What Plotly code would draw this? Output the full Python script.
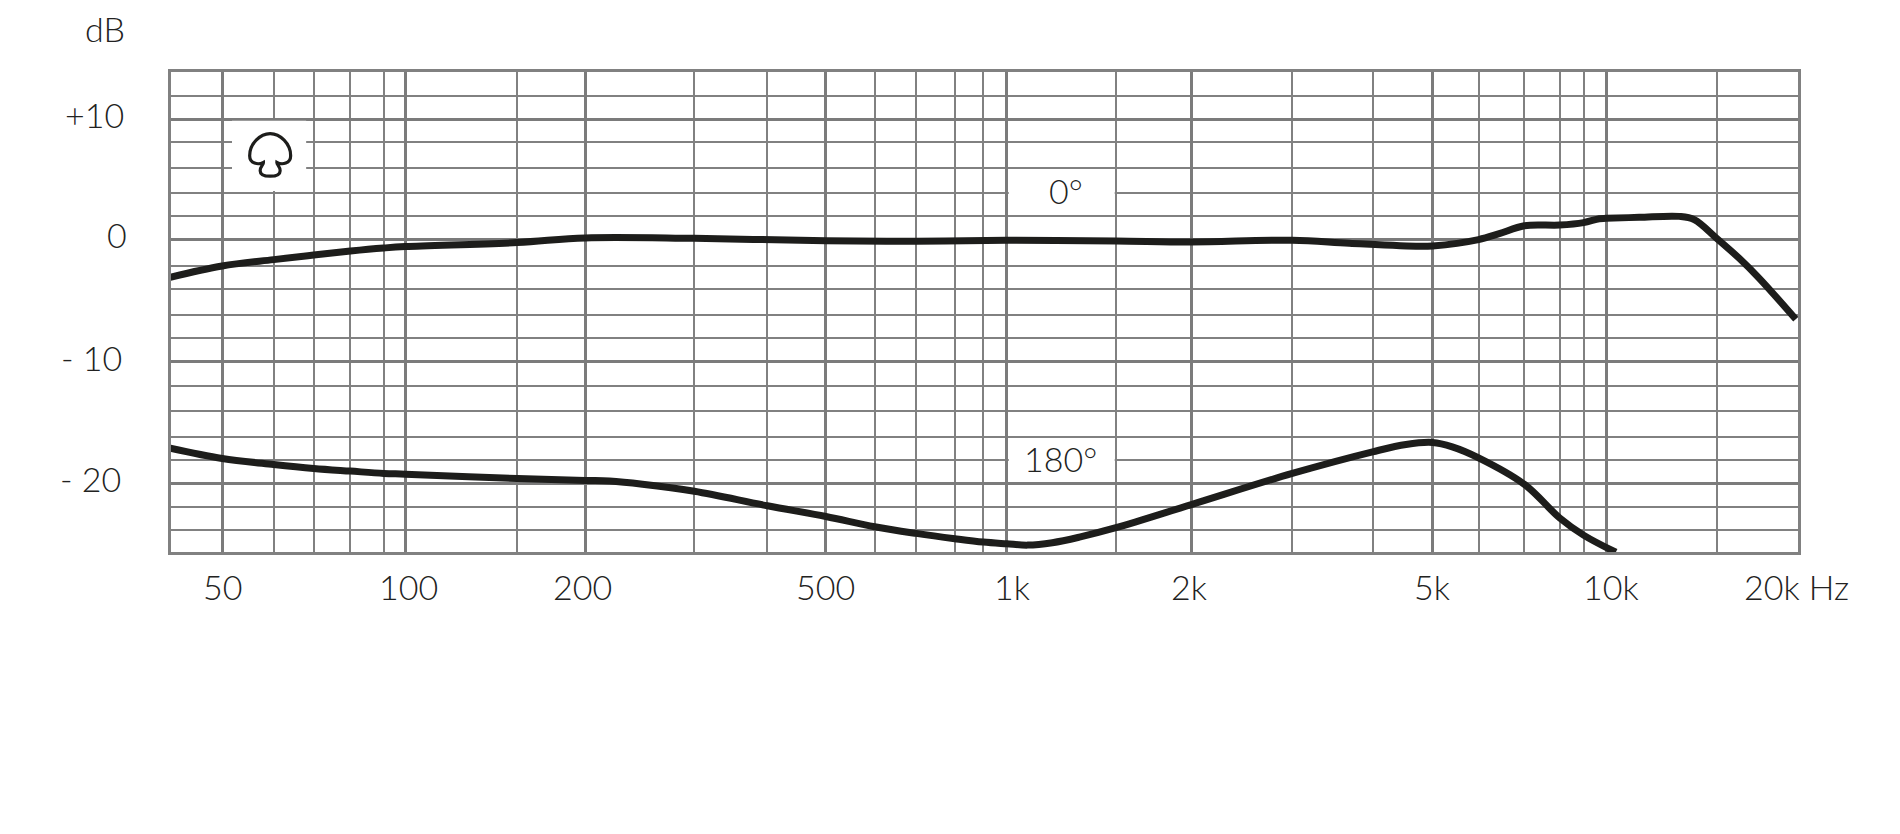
import math
import plotly.graph_objects as go

# Curves
freq_0 = [40.8, 50, 60.8, 70.8, 81.4, 92.4, 100.3, 153.5, 198.7, 300.9, 496, 699, 986, 1494, 1990, 2920, 3626,
          4732, 4977, 5928, 6413, 7058, 8065, 8834, 9378, 9631, 10918, 12710, 13455, 14670, 15965, 17230, 19800]
db_0 = [-3.10, -2.14, -1.61, -1.23, -0.90, -0.65, -0.53, -0.20, 0.19, 0.15, -0.05, -0.09, -0.01, -0.07, -0.15, -0.01, -0.26,
        -0.51, -0.48, 0.05, 0.54, 1.20, 1.25, 1.45, 1.78, 1.81, 1.89, 1.97, 1.70, 0.13, -1.50, -3.16, -6.55]
freq_180 = [40.8, 50, 60.8, 70.8, 81.4, 92.4, 100.3, 153.5, 198.7, 217.9, 247, 300.9, 397.1, 496, 597, 699, 810, 902, 986,
            1068, 1173, 1300, 1494, 1990, 2920, 3963, 4499, 4977, 5364, 5928, 7058, 8065, 8834, 9990]
db_180 = [-17.20, -18.08, -18.58, -18.91, -19.13, -19.32, -19.38, -19.74, -19.90, -19.95, -20.21, -20.80, -22.00, -22.89, -23.74, -24.29, -24.73, -25.01, -25.15,
          -25.26, -25.06, -24.60, -23.82, -21.90, -19.32, -17.53, -16.92, -16.76, -17.12, -18.03, -20.23, -23.00, -24.43, -25.85]

# Grid
major_freq = [50, 100.3, 198.7, 496, 986, 1990, 4977, 9631]
minor_freq = [60.8, 70.8, 81.4, 92.4, 153.5, 300.9, 397.1, 597, 699, 810, 902, 1494, 2920, 3963, 5928, 7058, 8065, 8834, 14670]
major_db = [10.03, 0.05, -10.05, -20.15]
minor_db = [11.93, 8.10, 5.97, 3.90, 1.97, -2.14, -4.04, -6.16, -8.07, -12.09, -14.16, -16.32, -18.22, -22.09, -24.01]

# Tick labels
x_labels = ["50", "100", "200", "500", "1k", "2k", "5k", "10k", "20k Hz"]
x_label_freq = [50.1, 101.4, 196.6, 496, 1008, 1975, 4965, 9816, 19880]
y_labels = ["+10", "0", "- 10", "- 20"]
y_label_db = [10.45, 0.50, -9.70, -19.75]
y_label_right_px = [124, 127, 122, 121]

FONT = "Lato"
TEXT = "#222221"
GRID = "#818181"
W, H = 1900, 834
L, R, T, B = 170.5, 1797.8, 72.2, 552.5

fig = go.Figure()
for xs, ys, name in [(freq_0, db_0, "0°"), (freq_180, db_180, "180°")]:
    fig.add_trace(go.Scatter(x=xs, y=ys, mode="lines", name=name, showlegend=False, hoverinfo="skip",
                             line=dict(color="#1d1d1b", width=7, shape="spline", smoothing=1.0)))

def label(text, x, y, xref="x", yref="y", xanchor="center", size=34):
    return dict(text=text, x=x, y=y, xref=xref, yref=yref, xanchor=xanchor, yanchor="middle",
                showarrow=False, align="center", borderpad=0,
                font=dict(family=FONT, size=size, color=TEXT, weight=300))

def pap_x(px):
    return (px - L) / (R - L)

def pap_y(py):
    return (B - py) / (B - T)

annotations = []
for t, f in zip(x_labels, x_label_freq):
    annotations.append(label(t, math.log10(f), pap_y(587.5), yref="paper"))
for t, d, rpx in zip(y_labels, y_label_db, y_label_right_px):
    annotations.append(label(t, pap_x(rpx), d, xref="paper", xanchor="right"))
annotations.append(label("dB", pap_x(104.5), pap_y(28.5), xref="paper", yref="paper"))
annotations.append(label("0°", math.log10(1236), 4.1))
annotations.append(label("180°", math.log10(1212), -18.1))

white = dict(type="rect", layer="between", xref="x", yref="y", fillcolor="white", line=dict(width=0))
shapes = [
    dict(white, x0=51.9, x1=68.8, y0=4.07, y1=9.9),
    dict(white, x0=994, x1=1487, y0=3.0, y1=5.0),
    dict(white, x0=994, x1=1487, y0=-19.0, y1=-17.5),
    dict(type="path", layer="above", xref="x", yref="y", xsizemode="pixel", ysizemode="pixel",
         xanchor=60.0, yanchor=7.0,
         path=("M -6.7 -6.7 C -12 -9.5 -20.5 -8 -20.5 0 C -20.5 12 -10 22 0 22 C 10 22 20.5 12 20.5 0 "
               "C 20.5 -8 12 -9.5 6.7 -6.7 C 6.5 -9 10 -11 10 -15 C 10 -19 6 -20.5 0 -20.5 "
               "C -6 -20.5 -10 -19 -10 -15 C -10 -11 -6.5 -9 -6.7 -6.7 Z"),
         line=dict(color="#1d1d1b", width=3.2), fillcolor="white"),
]

axis_common = dict(showline=True, linecolor=GRID, linewidth=3, mirror=True, showticklabels=False,
                   ticks="", zeroline=False, showgrid=True, gridcolor="#7b7b7b", gridwidth=3)
minor_common = dict(tickmode="array", showgrid=True, gridcolor=GRID, gridwidth=2, ticks="")

fig.update_layout(
    width=W, height=H, paper_bgcolor="white", plot_bgcolor="white", showlegend=False,
    margin=dict(l=L, r=W - R, t=T, b=H - B, pad=0),
    xaxis=dict(axis_common, type="log", range=[1.61447, 4.30022],
               tickmode="array", tickvals=major_freq, minor=dict(minor_common, tickvals=minor_freq)),
    yaxis=dict(axis_common, range=[-25.83, 13.93], tickmode="array", tickvals=major_db,
               minor=dict(minor_common, tickvals=minor_db)),
    annotations=annotations, shapes=shapes,
)

fig.write_html("out.html", config=dict(displayModeBar=False),
               post_script="document.body.style.margin='0';document.body.style.overflow='hidden';")
